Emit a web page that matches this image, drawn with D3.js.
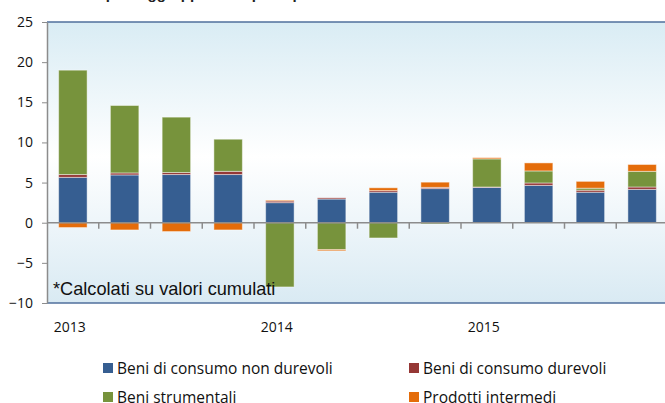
<!DOCTYPE html>
<html lang="it">
<head>
<meta charset="utf-8">
<title>Contributi</title>
<script src="https://d3js.org/d3.v7.min.js"></script>
<style>
  html, body { margin: 0; padding: 0; background: #fff; }
  svg { display: block; }
</style>
</head>
<body>
<script>
// data (quarters 2013 Q1 .. 2015 Q4)
var quarters = ["2013 T1","2013 T2","2013 T3","2013 T4","2014 T1","2014 T2","2014 T3","2014 T4","2015 T1","2015 T2","2015 T3","2015 T4"];
var yearLabels = ["2013", "2014", "2015"];
var nonDurevoli = [5.65, 5.95, 6.0, 6.0, 2.5, 2.95, 3.8, 4.25, 4.4, 4.65, 3.8, 4.15];
var durevoli    = [0.35, 0.25, 0.25, 0.4, 0.2, 0.15, 0.2, 0.15, 0.05, 0.3, 0.25, 0.3];
var strumentali = [13.0, 8.4, 6.9, 4.0, -8.0, -3.35, -1.9, -0.15, 3.5, 1.5, 0.25, 1.95];
var intermedi   = [-0.6, -0.9, -1.1, -0.9, 0.1, -0.15, 0.35, 0.65, 0.15, 1.0, 0.85, 0.85];
var yTicks = [-10, -5, 0, 5, 10, 15, 20, 25];
var seriesNames = ["Beni di consumo non durevoli", "Beni di consumo durevoli", "Beni strumentali", "Prodotti intermedi"];
var seriesKeys = ["nd", "d", "s", "i"];
var colors = ["#365e91", "#953735", "#77933c", "#e46c0a"];

var W = 665, H = 403;
var svg = d3.select("body").append("svg").attr("width", W).attr("height", H);

var rows = quarters.map(function(q, i) {
  return { q: q, nd: nonDurevoli[i], d: durevoli[i], s: strumentali[i], i: intermedi[i] };
});

var x = d3.scaleBand().domain(quarters).range([47, 668]).paddingInner(0.45).paddingOuter(0.225);
var y = d3.scaleLinear().domain([-10, 25]).range([303, 22]);

// background gradient
var defs = svg.append("defs");
var grad = defs.append("linearGradient").attr("id", "bg").attr("x1", 0).attr("y1", 0).attr("x2", 0).attr("y2", 1);
grad.append("stop").attr("offset", "0%").attr("stop-color", "#d9ecf4");
grad.append("stop").attr("offset", "48%").attr("stop-color", "#ffffff");
grad.append("stop").attr("offset", "100%").attr("stop-color", "#d9eaf3");

// title, only its lowest part shows at the top edge
svg.append("text")
  .attr("x", 30).attr("y", -1.5)
  .attr("font-family", "Liberation Sans, Arial, sans-serif")
  .attr("font-weight", "bold").attr("font-size", 15).attr("fill", "#222")
  .text("Contributi per raggruppamenti principali di industrie*");

svg.append("rect")
  .attr("x", 47).attr("y", y(25)).attr("width", W - 47).attr("height", y(-10) - y(25))
  .attr("fill", "url(#bg)");

// top / bottom border of the plot area
svg.append("line").attr("x1", 47).attr("x2", W).attr("y1", y(25)).attr("y2", y(25))
  .attr("stroke", "#4f6f9c").attr("stroke-width", 1.5);
svg.append("line").attr("x1", 47).attr("x2", W).attr("y1", y(-10)).attr("y2", y(-10))
  .attr("stroke", "#4f6f9c").attr("stroke-width", 1.5);

// y axis
var yAxis = d3.axisLeft(y).tickValues(yTicks).tickSize(5).tickPadding(9).tickSizeOuter(0);
var gy = svg.append("g").attr("transform", "translate(47,0)").call(yAxis);
gy.select(".domain").attr("stroke", "#8c8c8c").attr("stroke-width", 1.5);
gy.selectAll(".tick line").attr("stroke", "#8c8c8c");
gy.selectAll(".tick text")
  .attr("font-family", "Open Sans, sans-serif").attr("font-size", 14).attr("fill", "#111");

// bars
var stack = d3.stack().keys(seriesKeys).offset(d3.stackOffsetDiverging);
var layers = stack(rows);

svg.append("g").selectAll("g").data(layers).join("g")
  .attr("fill", function(d, i) { return colors[i]; })
  .selectAll("rect").data(function(d) { return d; }).join("rect")
  .attr("x", function(d) { return x(d.data.q); })
  .attr("width", x.bandwidth())
  .attr("y", function(d) { return y(d[1]); })
  .attr("height", function(d) { return Math.max(0, y(d[0]) - y(d[1])); })
  .attr("stroke", "#ffffff").attr("stroke-opacity", 0.45).attr("stroke-width", 1);

// zero line with category ticks
var step = x.step();
svg.append("line").attr("x1", 47).attr("x2", W).attr("y1", y(0)).attr("y2", y(0))
  .attr("stroke", "#8c8c8c").attr("stroke-width", 1.5);
svg.append("g").selectAll("line").data(quarters.slice(1)).join("line")
  .attr("x1", function(d) { return x(d) - step * 0.225; })
  .attr("x2", function(d) { return x(d) - step * 0.225; })
  .attr("y1", y(0)).attr("y2", y(0) + 6)
  .attr("stroke", "#8c8c8c").attr("stroke-width", 1.5);

// year labels
svg.append("g").selectAll("text").data(yearLabels).join("text")
  .attr("x", function(d, i) { return x(quarters[i * 4]) + x.bandwidth() / 2 - 3; })
  .attr("y", 332)
  .attr("text-anchor", "middle")
  .attr("font-family", "Open Sans, sans-serif").attr("font-size", 14).attr("fill", "#111")
  .text(function(d) { return d; });

// footnote
svg.append("text")
  .attr("x", 53).attr("y", 295)
  .attr("font-family", "Liberation Sans, Arial, sans-serif").attr("font-size", 18.2).attr("fill", "#111")
  .text("*Calcolati su valori cumulati");

// legend
var legPos = [[103, 368], [409, 368], [103, 397], [409, 397]];
var leg = svg.append("g").selectAll("g").data(seriesNames).join("g")
  .attr("transform", function(d, i) { return "translate(" + legPos[i][0] + "," + legPos[i][1] + ")"; });
leg.append("rect").attr("x", 0).attr("y", -5).attr("width", 10).attr("height", 10)
  .attr("fill", function(d, i) { return colors[i]; });
leg.append("text").attr("x", 14).attr("y", 6)
  .attr("font-family", "Open Sans, sans-serif").attr("font-size", 15.5).attr("fill", "#111")
  .text(function(d) { return d; });
</script>
</body>
</html>
